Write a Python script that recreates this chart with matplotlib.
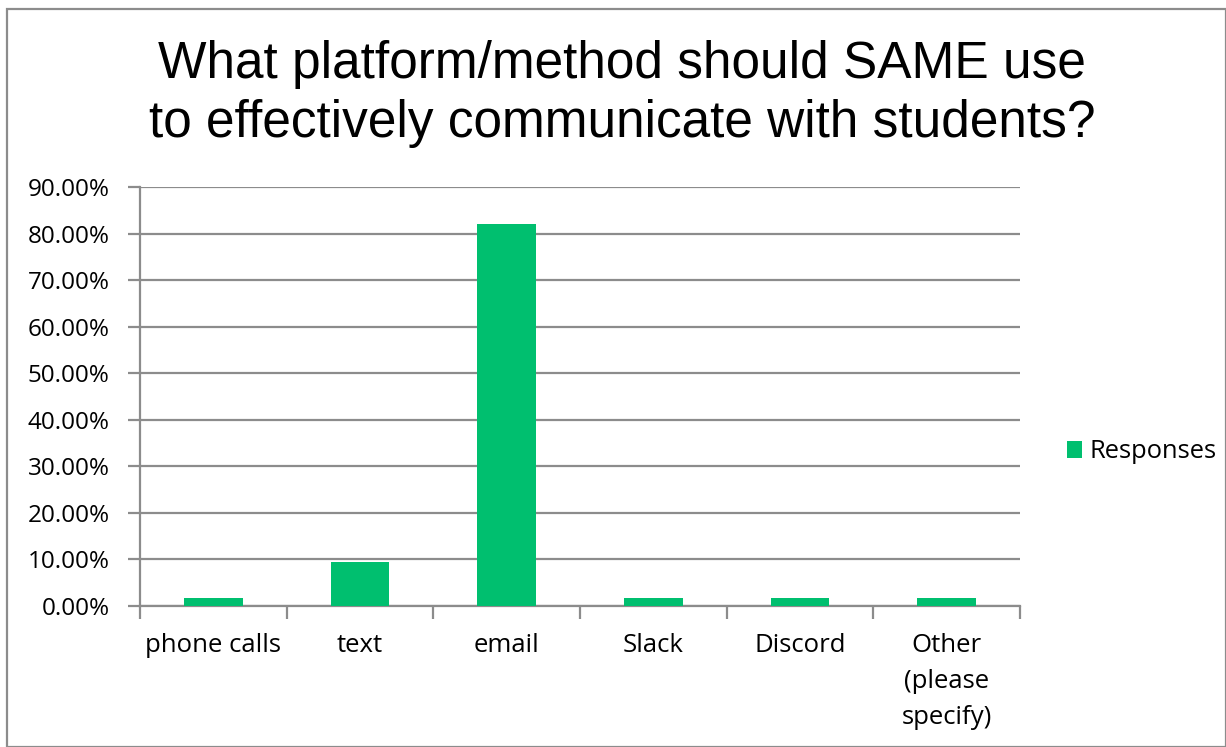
import matplotlib.pyplot as plt
import numpy as np
from matplotlib.patches import Rectangle

categories = ['phone calls', 'text', 'email', 'Slack', 'Discord', 'Other\n(please\nspecify)']
responses = [1.79, 9.52, 82.14, 1.79, 1.79, 1.79]
yticks = [0, 10, 20, 30, 40, 50, 60, 70, 80, 90]
green = '#00BF6F'
gray = '#8c8c8c'
tickfont = 'Open Sans'

fig = plt.figure(figsize=(12.26, 7.47), dpi=100)
W, H = 1226, 747
ax = fig.add_axes([140 / W, 1 - 606 / H, 880 / W, 419 / H])

x = np.arange(len(categories))
ax.bar(x, responses, width=0.4, color=green, label='Responses', zorder=3)
ax.set_xlim(-0.5, len(categories) - 0.5)
ax.set_ylim(0, 90)
ax.set_yticks(yticks)
ax.set_yticklabels(['%.2f%%' % v for v in yticks], fontsize=17.5, family=tickfont)
ax.yaxis.grid(True, color=gray, linewidth=1.6, zorder=0)
ax.set_xticks(x)
ax.set_xticklabels(categories, fontsize=18.5, family=tickfont, linespacing=1.57, va='top')
ax.set_xticks(np.arange(len(categories) + 1) - 0.5, minor=True)
ax.tick_params(axis='x', which='major', length=0, pad=19.5)
ax.tick_params(axis='x', which='minor', length=9, width=1.6, color=gray)
ax.tick_params(axis='y', length=9, width=1.6, color=gray, pad=13)
for s in ['top', 'right']:
    ax.spines[s].set_visible(False)
ax.spines['left'].set_color(gray)
ax.spines['bottom'].set_color(gray)
ax.spines['left'].set_linewidth(1.6)
ax.spines['bottom'].set_linewidth(1.6)
ax.set_axisbelow(True)

fig.text(622 / W, 1 - 94 / H, 'What platform/method should SAME use\nto effectively communicate with students?',
         ha='center', va='center', fontsize=37, family='Liberation Sans', linespacing=1.26)

fig.legend(loc='center left', bbox_to_anchor=(1044 / W, 1 - 452 / H), frameon=False,
           prop={'family': tickfont, 'size': 18.4}, handlelength=0.6, handleheight=0.6,
           handletextpad=0.28)

fig.add_artist(Rectangle((7 / W, 0), 1 - 7 / W, 1 - 9 / H, transform=fig.transFigure,
                         fill=False, edgecolor=gray, linewidth=1.6))

fig.savefig('out.png', dpi=100)
